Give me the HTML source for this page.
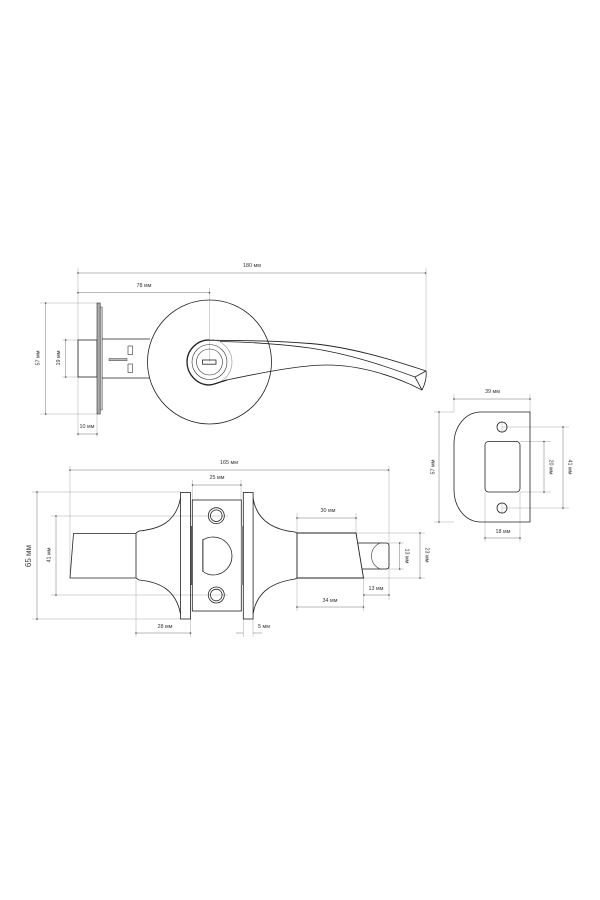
<!DOCTYPE html>
<html><head><meta charset="utf-8"><style>
html,body{margin:0;padding:0;background:#fff;width:600px;height:900px;overflow:hidden}
svg{display:block;filter:blur(.3px)}
text{font-family:"Liberation Sans",sans-serif;font-size:5.4px;fill:#333;text-anchor:middle}
.d{fill:none;stroke:#222;stroke-width:.8}
.t{fill:none;stroke:#333;stroke-width:.6}
.g{fill:none;stroke:#aaa;stroke-width:.5}
.a{fill:none;stroke:#777;stroke-width:.5;marker-start:url(#m);marker-end:url(#m)}
</style></head><body>
<svg width="600" height="900" viewBox="0 0 600 900" xmlns="http://www.w3.org/2000/svg">
<defs><marker id="m" markerUnits="userSpaceOnUse" markerWidth="3" markerHeight="3" refX="1.5" refY="1.5"><circle cx="1.5" cy="1.5" r=".8" fill="#444"/></marker></defs>

<!-- top view: extension lines -->
<path class="g" d="M78 268V436M97 414V437M209.5 288V362M426 268V371M40 303H97M40 414H97M62 340H78M62 377H78"/>
<path class="a" d="M78 273H425.5"/>
<path class="a" d="M78 292.7H209.5"/>
<path class="a" d="M45.7 303V414"/>
<path class="a" d="M65.7 340V377"/>
<path class="a" d="M78 434H97"/>
<text x="252" y="267">180 мм</text>
<text x="144" y="287">78 мм</text>
<text x="87" y="428">10 мм</text>
<text transform="translate(39.5 358) rotate(-90)">57 мм</text>
<text transform="translate(60 358) rotate(-90)">19 мм</text>

<!-- top view: body -->
<rect class="d" x="78" y="340" width="19" height="37"/>
<rect x="97" y="303" width="3.2" height="111" fill="#aaa" stroke="#333" stroke-width=".6"/>
<rect x="100.2" y="307" width="2" height="103" fill="#ccc" stroke="#444" stroke-width=".5"/>
<path class="d" d="M102 339H150M102 378H150"/>
<rect class="t" x="128" y="346" width="4.5" height="8.5"/>
<rect class="t" x="128" y="364" width="4.5" height="8.5"/>
<rect x="109" y="358.5" width="18" height="2.2" fill="#bbb" stroke="#444" stroke-width=".5"/>
<circle class="d" cx="209.5" cy="362" r="62"/>
<circle cx="209.5" cy="362" r="22.5" fill="none" stroke="#999" stroke-width=".6"/>
<path d="M209 340C197 340 187 350 187 362C187 374 197 385 209 385C214 385 219 382 227 380" fill="none" stroke="#222" stroke-width="1.3"/>
<circle class="t" cx="209.5" cy="362" r="17.5"/>
<circle class="t" cx="209.5" cy="362" r="13"/>
<rect class="d" x="202.5" y="360" width="13.5" height="4.2" fill="#fff"/>
<!-- lever -->
<path d="M209 340.3C240 340.5 272 340.5 310 343.5C350 347 390 359 426 371" fill="none" stroke="#222" stroke-width=".9"/>
<path class="d" d="M220 341.5C250 342 280 344 310 348C350 354 385 366 415 377"/>
<path class="d" d="M227 380C260 373 300 365 327 365C360 365 395 376 422 390"/>
<path class="d" d="M426 371L415 377L422 390C425 384 427 378 426 371Z"/>

<!-- strike plate -->
<path class="g" d="M454 394V412M530 394V412M434 412H454M434 522H454M485 492V542M520 492V542M502 421V433M502 502V514M502 427H569M502 508H569M520 441.5H551M520 492H551"/>
<path class="a" d="M454 399H530"/>
<path class="a" d="M439 412V522"/>
<path class="a" d="M544 441.5V492"/>
<path class="a" d="M563 427V508"/>
<path class="a" d="M485 538H520"/>
<text x="492.5" y="393">39 мм</text>
<text x="503" y="533">18 мм</text>
<text transform="translate(434.5 467) rotate(-90)">57 мм</text>
<text transform="translate(549.5 467) rotate(90)">20 мм</text>
<text transform="translate(568.5 467) rotate(90)">41 мм</text>
<path class="d" d="M530 412V522H481C465 522 454 507 454 490V444C454 427 465 412 481 412Z"/>
<circle class="d" cx="502" cy="427" r="5"/>
<circle class="d" cx="502" cy="508" r="5"/>
<rect class="d" x="485" y="441.5" width="35" height="50.5" rx="3.5"/>

<!-- side view: dimensions -->
<path class="g" d="M70 466V578M389 466V600M32 492H181M32 619H181M51 516H228M51 595H228M136 580V637M190.5 619V637M192.5 480V500M241 480V500M243.3 619V637M253 619V637M297 513V533M356 513V533M297 578V611M363.5 578V611M356 533H425M363 578H425M358 543H404M362 569H404"/>
<path class="a" d="M70 470H388.5"/>
<path class="a" d="M37 492V619"/>
<path class="a" d="M56 516V595"/>
<path class="a" d="M136 633H190.5"/>
<path class="a" d="M192.5 485H241"/>
<path class="g" style="stroke:#777" d="M236 633H243.3M253 633H262"/>
<path class="a" d="M297 518H356"/>
<path class="a" d="M297 607H363.5"/>
<path class="a" d="M364 595H389"/>
<path class="a" d="M399.7 543V569"/>
<path class="a" d="M420 533V578"/>
<text x="229" y="464">165 мм</text>
<text x="165" y="628">28 мм</text>
<text x="217" y="479">25 мм</text>
<text x="264" y="628">5 мм</text>
<text x="328" y="512">30 мм</text>
<text x="330" y="602">34 мм</text>
<text x="376" y="590">13 мм</text>
<text transform="translate(50.5 555) rotate(-90)">41 мм</text>
<text transform="translate(405.5 556) rotate(90)">13 мм</text>
<text transform="translate(425.5 555) rotate(90)">23 мм</text>
<text transform="translate(31 556) rotate(-90)" style="font-size:8px;fill:#444">65 мм</text>

<!-- side view: body -->
<path class="d" d="M73.5 533.5H136V578H70Z"/>
<path class="d" d="M136 533L139 531C160 529 176 522 180.5 498"/>
<path class="d" d="M136 578L139 580C160 582 176 590 180.5 614"/>
<rect class="d" x="180.5" y="492.5" width="10" height="126.5"/>
<rect class="d" x="192.3" y="500" width="49" height="111"/>
<path class="d" d="M191.3 526V585"/>
<rect x="241" y="526" width="2" height="59" fill="#888"/>
<rect class="d" x="243.3" y="492.5" width="9.8" height="126.5"/>
<path class="d" d="M253 498C257 522 275 530 295 532L297 533"/>
<path class="d" d="M253 614C257 590 275 582 295 579L297 578"/>
<circle class="d" cx="216.3" cy="515.7" r="8"/>
<circle class="d" cx="216.3" cy="515.7" r="5.8"/>
<circle class="d" cx="216.3" cy="595" r="8"/>
<circle class="d" cx="216.3" cy="595" r="5.8"/>
<path d="M202.5 540C207 537.5 210 537 213 537C224 537 232 546 232 556C232 566 224 575 213 575C210 575 206 574 202.5 571Z" fill="none" stroke="#222" stroke-width=".8"/>
<rect x="202" y="540" width="1.6" height="31" fill="#777"/>
<path class="d" d="M297 533H356L363.5 578H297Z" style="stroke-width:.9"/>
<path class="d" d="M358 543H386Q389 543 389 546V566Q389 569 386 569H362"/>
<path class="t" d="M380 543C374 546 371.5 551 371.5 556C371.5 561 374 566 380 569"/>
</svg>
</body></html>
